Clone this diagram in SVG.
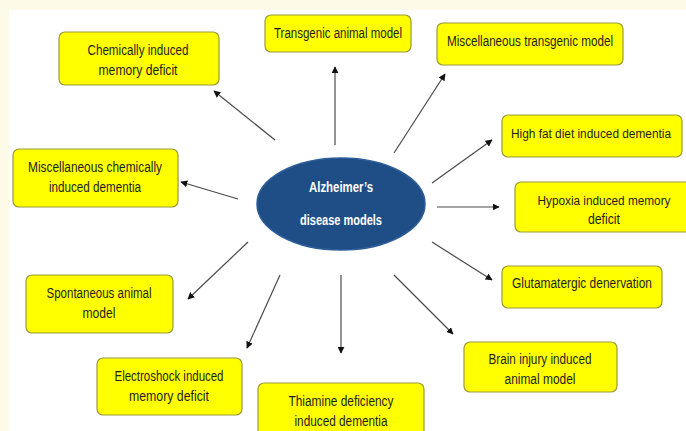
<svg xmlns="http://www.w3.org/2000/svg" width="686" height="431" viewBox="0 0 686 431">
<style>
.box{fill:#ffff00;stroke:#9a9a3a;stroke-width:1.2}
.t{font-family:"Liberation Sans",Arial,sans-serif;font-size:14px;fill:#1e1e1e;text-anchor:middle}
.s{font-size:12.5px}
.c{font-family:"Liberation Sans",Arial,sans-serif;font-size:14px;font-weight:bold;fill:#ffffff;text-anchor:middle}
.a{stroke:#4a4a4a;stroke-width:1.2;fill:none;marker-end:url(#ah)}
</style>
<defs>
<marker id="ah" viewBox="0 0 10 10" refX="9" refY="5" markerWidth="7" markerHeight="7" markerUnits="userSpaceOnUse" orient="auto">
<path d="M0,0 L10,5 L0,10 z" fill="#111"/>
</marker>
</defs>
<rect x="0" y="0" width="686" height="431" fill="#fdfbe8"/>
<rect x="9" y="10" width="677" height="421" fill="#ffffff"/>
<g id="connectors">
<line class="a" x1="275" y1="140" x2="214" y2="91"/>
<line class="a" x1="335" y1="145" x2="335" y2="67"/>
<line class="a" x1="394" y1="153" x2="445" y2="74"/>
<line class="a" x1="432" y1="183" x2="492" y2="140"/>
<line class="a" x1="238" y1="199" x2="181" y2="182"/>
<line class="a" x1="437" y1="207" x2="499" y2="207"/>
<line class="a" x1="432" y1="242" x2="492" y2="280"/>
<line class="a" x1="248" y1="242" x2="188" y2="299"/>
<line class="a" x1="280" y1="275" x2="247" y2="348"/>
<line class="a" x1="341" y1="275" x2="341" y2="353"/>
<line class="a" x1="394" y1="275" x2="453" y2="334"/>
</g>
<g id="center">
<ellipse cx="341" cy="204" rx="84" ry="46" fill="#1f4e87" stroke="#2c5d96" stroke-width="1.5"/>
<text class="c" x="341" y="192" textLength="64" lengthAdjust="spacingAndGlyphs">Alzheimer’s</text>
<text class="c" x="341" y="225" textLength="82" lengthAdjust="spacingAndGlyphs">disease models</text>
</g>
<g id="n1">
<rect class="box" x="59" y="32" width="160" height="53" rx="6"/>
<text class="t" x="138" y="55" textLength="101" lengthAdjust="spacingAndGlyphs">Chemically induced</text>
<text class="t" x="138" y="75" textLength="79" lengthAdjust="spacingAndGlyphs">memory deficit</text>
</g>
<g id="n2">
<rect class="box" x="265" y="15" width="146" height="37" rx="6"/>
<text class="t" x="338" y="38" textLength="128" lengthAdjust="spacingAndGlyphs">Transgenic animal model</text>
</g>
<g id="n3">
<rect class="box" x="437" y="23" width="186" height="42" rx="6"/>
<text class="t" x="530" y="46" textLength="166" lengthAdjust="spacingAndGlyphs">Miscellaneous transgenic model</text>
</g>
<g id="n4">
<rect class="box" x="502" y="115" width="180" height="42" rx="6"/>
<text class="t s" x="591" y="138" textLength="160" lengthAdjust="spacingAndGlyphs">High fat diet induced dementia</text>
</g>
<g id="n5">
<rect class="box" x="13" y="149" width="165" height="58" rx="6"/>
<text class="t" x="95" y="172" textLength="134" lengthAdjust="spacingAndGlyphs">Miscellaneous chemically</text>
<text class="t" x="95" y="192" textLength="92" lengthAdjust="spacingAndGlyphs">induced dementia</text>
</g>
<g id="n6">
<rect class="box" x="515" y="182" width="180" height="50" rx="6"/>
<text class="t s" x="604" y="205" textLength="133" lengthAdjust="spacingAndGlyphs">Hypoxia induced memory</text>
<text class="t" x="604" y="224" textLength="32" lengthAdjust="spacingAndGlyphs">deficit</text>
</g>
<g id="n7">
<rect class="box" x="502" y="266" width="160" height="42" rx="6"/>
<text class="t" x="582" y="288" textLength="140" lengthAdjust="spacingAndGlyphs">Glutamatergic denervation</text>
</g>
<g id="n8">
<rect class="box" x="26" y="275" width="147" height="58" rx="6"/>
<text class="t" x="99" y="298" textLength="105" lengthAdjust="spacingAndGlyphs">Spontaneous animal</text>
<text class="t" x="99" y="318" textLength="33" lengthAdjust="spacingAndGlyphs">model</text>
</g>
<g id="n9">
<rect class="box" x="464" y="342" width="153" height="50" rx="6"/>
<text class="t" x="540" y="364" textLength="103" lengthAdjust="spacingAndGlyphs">Brain injury induced</text>
<text class="t" x="540" y="384" textLength="71" lengthAdjust="spacingAndGlyphs">animal model</text>
</g>
<g id="n10">
<rect class="box" x="97" y="358" width="145" height="57" rx="6"/>
<text class="t" x="169" y="381" textLength="109" lengthAdjust="spacingAndGlyphs">Electroshock induced</text>
<text class="t" x="169" y="401" textLength="80" lengthAdjust="spacingAndGlyphs">memory deficit</text>
</g>
<g id="n11">
<rect class="box" x="258" y="383" width="166" height="56" rx="6"/>
<text class="t" x="341" y="406" textLength="105" lengthAdjust="spacingAndGlyphs">Thiamine deficiency</text>
<text class="t" x="341" y="426" textLength="93" lengthAdjust="spacingAndGlyphs">induced dementia</text>
</g>
</svg>
